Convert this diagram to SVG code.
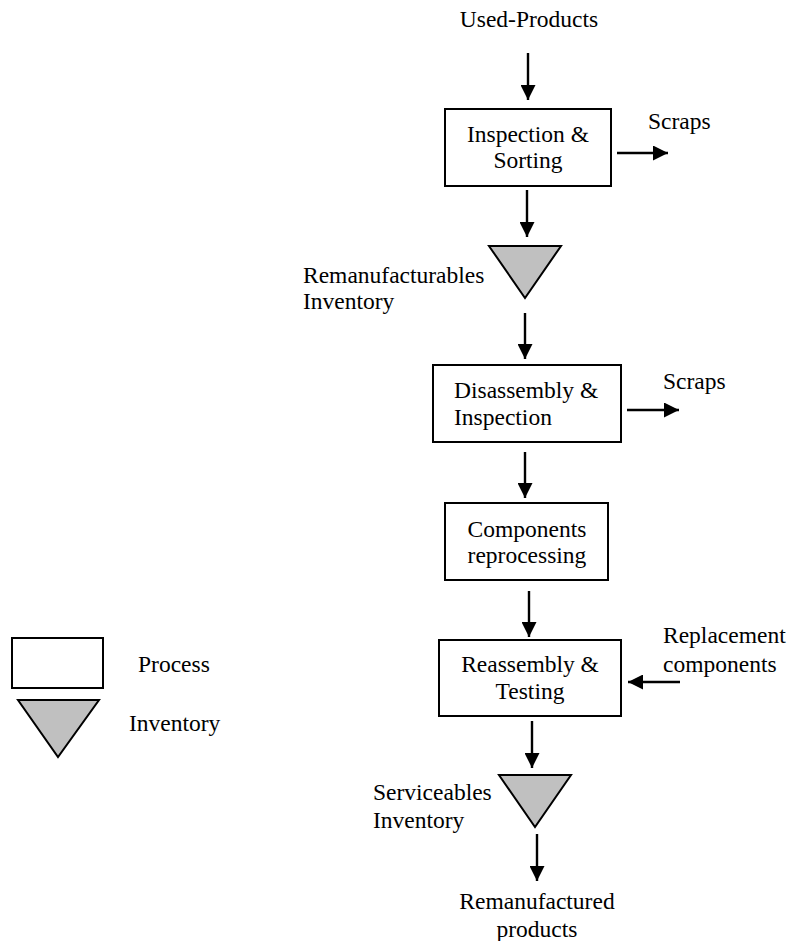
<svg xmlns="http://www.w3.org/2000/svg" width="789" height="941" viewBox="0 0 789 941">
<style>
text{font-family:"Liberation Serif","Times New Roman",serif;font-size:23.5px;fill:#000}
.c{text-anchor:middle}
.box{fill:#fff;stroke:#000;stroke-width:2}
.inv{fill:#c0c0c0;stroke:#000;stroke-width:2;stroke-linejoin:miter}
.arr{stroke:#000;stroke-width:2.4;fill:none;marker-end:url(#ah)}
</style>
<defs>
<marker id="ah" markerUnits="userSpaceOnUse" markerWidth="15" markerHeight="15" refX="15" refY="7.5" orient="auto">
<path d="M0,0 L15,7.5 L0,15 z" fill="#000"/>
</marker>
</defs>
<rect width="789" height="941" fill="#fff"/>
<g id="connectors">
<line class="arr" x1="528" y1="53" x2="528" y2="100"/>
<line class="arr" x1="617" y1="153" x2="668" y2="153"/>
<line class="arr" x1="527" y1="190" x2="527" y2="237"/>
<line class="arr" x1="525" y1="313" x2="525" y2="359"/>
<line class="arr" x1="627" y1="410" x2="679" y2="410"/>
<line class="arr" x1="525" y1="452" x2="525" y2="498"/>
<line class="arr" x1="529" y1="591" x2="529" y2="637"/>
<line class="arr" x1="680" y1="682" x2="628" y2="682"/>
<line class="arr" x1="532" y1="721" x2="532" y2="768"/>
<line class="arr" x1="537" y1="834" x2="537" y2="881"/>
</g>
<g id="used-products"><text class="c" x="529" y="27">Used-Products</text></g>
<g id="inspection-sorting">
<rect class="box" x="445" y="109" width="166" height="77"/>
<text class="c" x="528" y="142">Inspection &amp;</text>
<text class="c" x="528" y="168">Sorting</text>
</g>
<g id="scraps1"><text x="648" y="129">Scraps</text></g>
<g id="remanufacturables-inventory">
<polygon class="inv" points="489,246 561,246 525,298"/>
<text x="303" y="283">Remanufacturables</text>
<text x="303" y="309">Inventory</text>
</g>
<g id="disassembly-inspection">
<rect class="box" x="433" y="365" width="188" height="77"/>
<text x="454" y="398">Disassembly &amp;</text>
<text x="454" y="425">Inspection</text>
</g>
<g id="scraps2"><text x="663" y="389">Scraps</text></g>
<g id="components-reprocessing">
<rect class="box" x="445" y="503" width="163" height="77"/>
<text class="c" x="527" y="537">Components</text>
<text class="c" x="527" y="563">reprocessing</text>
</g>
<g id="reassembly-testing">
<rect class="box" x="439" y="640" width="182" height="76"/>
<text class="c" x="530" y="672">Reassembly &amp;</text>
<text class="c" x="530" y="699">Testing</text>
</g>
<g id="replacement-components">
<text x="663" y="643">Replacement</text>
<text x="663" y="672">components</text>
</g>
<g id="serviceables-inventory">
<polygon class="inv" points="499,775 571,775 535,827"/>
<text x="373" y="800">Serviceables</text>
<text x="373" y="828">Inventory</text>
</g>
<g id="remanufactured-products">
<text class="c" x="537" y="909">Remanufactured</text>
<text class="c" x="537" y="937">products</text>
</g>
<g id="legend">
<rect class="box" x="12" y="638" width="91" height="50"/>
<text x="138" y="672">Process</text>
<polygon class="inv" points="18,700 99,700 58,757"/>
<text x="129" y="731">Inventory</text>
</g>
</svg>
